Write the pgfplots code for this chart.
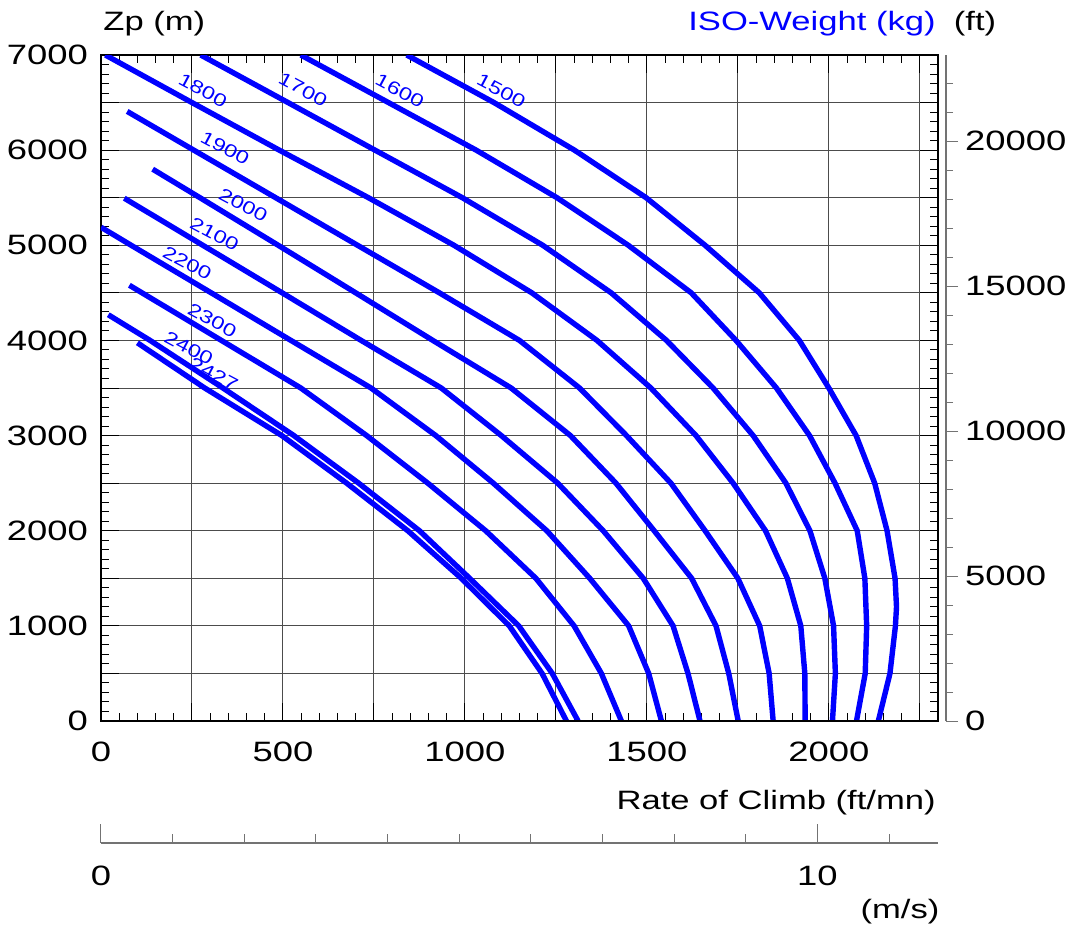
\documentclass[border=0pt]{standalone}
\usepackage{fontspec}
\setmainfont{Liberation Sans}[FakeStretch=1.3]
\usepackage{pgfplots}
\pgfplotsset{compat=1.18}
\definecolor{isoblue}{RGB}{0,0,255}
\pgfplotsset{curve/.style={isoblue, line width=2.7pt, mark=none, line join=round},
  every tick label/.append style={font=\fontsize{14}{16}\selectfont}}
\tikzset{wlabel/.style={isoblue, font=\fontsize{9}{10}\selectfont, rotate=-28, inner sep=0pt}}
\begin{document}
\begin{tikzpicture}[font=\fontsize{13.3}{15}\selectfont]
\useasboundingbox (-50.5pt,-103.5pt) rectangle (482.5pt,360.5pt);

% ft scale on the right
\begin{axis}[at={(4pt,0pt)}, anchor=south west, scale only axis, width=418.5pt, height=333pt,
  xmin=0, xmax=1, ymin=0, ymax=22965.9, hide x axis, axis y line*=right,
  scaled y ticks=false,
  ytick={0,5000,10000,15000,20000}, yticklabels={0,5000,10000,15000,20000},
  minor ytick={1000,2000,...,22000},
  tick align=outside, major tick length=6pt, minor tick length=3.5pt,
  axis line style={-, black!55, line width=0.6pt}, tick style={black!55, line width=0.5pt}]
\addplot[draw=none] coordinates {(0,0)};
\end{axis}

% m/s scale below
\begin{axis}[at={(0pt,-61pt)}, anchor=south west, scale only axis, width=418.5pt, height=20pt,
  xmin=0, xmax=11.684, ymin=0, ymax=1, hide y axis, axis x line*=bottom,
  xtick={0,10}, xticklabels={0,10}, minor xtick={1,...,11},
  tick align=inside, major tick length=9.5pt, minor tick length=4.5pt,
  axis line style={-, black!55, line width=0.6pt}, tick style={black!55, line width=0.5pt},
  xticklabel style={yshift=-8pt}]
\addplot[draw=none] coordinates {(0,0)};
\end{axis}

% main chart
\begin{axis}[at={(0pt,0pt)}, anchor=south west, scale only axis, width=418.5pt, height=333pt,
  xmin=0, xmax=2300, ymin=0, ymax=7000,
  xtick={0,250,...,2250}, xticklabels={0,,500,,1000,,1500,,2000,},
  ytick={0,500,...,7000}, yticklabels={0,,1000,,2000,,3000,,4000,,5000,,6000,,7000},
  minor x tick num=4, minor y tick num=4,
  xtick pos=both, ytick pos=both, xticklabel pos=lower, yticklabel pos=left,
  tick align=inside, major tick length=9pt, minor tick length=4pt,
  tick style={black, line width=0.5pt},
  grid=major, major grid style={black!70, line width=0.5pt},
  axis line style={black, line width=0.75pt},
  xticklabel style={yshift=-7pt}, yticklabel style={xshift=-3pt}]

\addplot[curve] coordinates {(840,7000) (1080,6500) (1301,6000) (1498,5500) (1660,5000) (1809,4500) (1919,4000) (2000,3500) (2075,3000) (2126,2500) (2160,2000) (2182,1500) (2186,1200) (2183,1000) (2168,500) (2136,0)};
\addplot[curve] coordinates {(549,7000) (790,6500) (1031,6000) (1253,5500) (1449,5000) (1622,4500) (1745,4000) (1856,3500) (1947,3000) (2017,2500) (2078,2000) (2099,1500) (2104,1000) (2100,500) (2076,0)};
\addplot[curve] coordinates {(274,7000) (514,6500) (753,6000) (993,5500) (1214,5000) (1402,4500) (1554,4000) (1682,3500) (1792,3000) (1882,2500) (1948,2000) (1989,1500) (2013,1000) (2018,500) (2010,0)};
\addplot[curve] coordinates {(12,7000) (250,6500) (490,6000) (735,5500) (970,5000) (1184,4500) (1363,4000) (1511,3500) (1635,3000) (1737,2500) (1826,2000) (1886,1500) (1923,1000) (1934,500) (1935,0)};
\addplot[curve] coordinates {(72,6407) (255,6000) (480,5500) (705,5000) (930,4500) (1150,4000) (1315,3500) (1444,3000) (1566,2500) (1660,2000) (1750,1500) (1810,1000) (1836,500) (1847,0)};
\addplot[curve] coordinates {(142,5800) (272,5500) (487,5000) (700,4500) (912,4000) (1127,3500) (1290,3000) (1415,2500) (1520,2000) (1623,1500) (1690,1000) (1725,500) (1751,0)};
\addplot[curve] coordinates {(64,5495) (280,5000) (498,4500) (715,4000) (935,3500) (1100,3000) (1255,2500) (1380,2000) (1490,1500) (1572,1000) (1613,500) (1646,0)};
\addplot[curve] coordinates {(0,5190) (83,5000) (303,4500) (522,4000) (742,3500) (920,3000) (1078,2500) (1225,2000) (1343,1500) (1450,1000) (1505,500) (1540,0)};
\addplot[curve] coordinates {(78,4580) (331,4000) (549,3500) (730,3000) (898,2500) (1057,2000) (1195,1500) (1300,1000) (1375,500) (1430,0)};
\addplot[curve] coordinates {(20,4270) (135,4000) (335,3500) (530,3000) (708,2500) (875,2000) (1013,1500) (1148,1000) (1240,500) (1311,0)};
\addplot[curve] coordinates {(100,3975) (285,3500) (497,3000) (675,2500) (843,2000) (990,1500) (1122,1000) (1212,500) (1279,0)};

\node[wlabel] at (axis cs:1100,6625) {1500};
\node[wlabel] at (axis cs:821,6625) {1600};
\node[wlabel] at (axis cs:555,6637) {1700};
\node[wlabel] at (axis cs:280,6627) {1800};
\node[wlabel] at (axis cs:341,6020) {1900};
\node[wlabel] at (axis cs:391,5424) {2000};
\node[wlabel] at (axis cs:312,5120) {2100};
\node[wlabel] at (axis cs:237,4814) {2200};
\node[wlabel] at (axis cs:306,4210) {2300};
\node[wlabel] at (axis cs:241,3917) {2400};
\node[wlabel] at (axis cs:310,3650) {2427};

\draw[black, line width=1.3pt] (rel axis cs:0,0) -- (rel axis cs:1,0);
\end{axis}

\node[anchor=west, inner sep=0pt] at (1pt,348.5pt) {Zp (m)};
\node[anchor=east, inner sep=0pt, isoblue] at (417.5pt,348.5pt) {ISO-Weight (kg)};
\node[inner sep=0pt] at (437pt,348.5pt) {(ft)};
\node[anchor=east, inner sep=0pt] at (417.5pt,-41pt) {Rate of Climb (ft/mn)};
\node[inner sep=0pt] at (399.5pt,-95.5pt) {(m/s)};
\end{tikzpicture}
\end{document}
